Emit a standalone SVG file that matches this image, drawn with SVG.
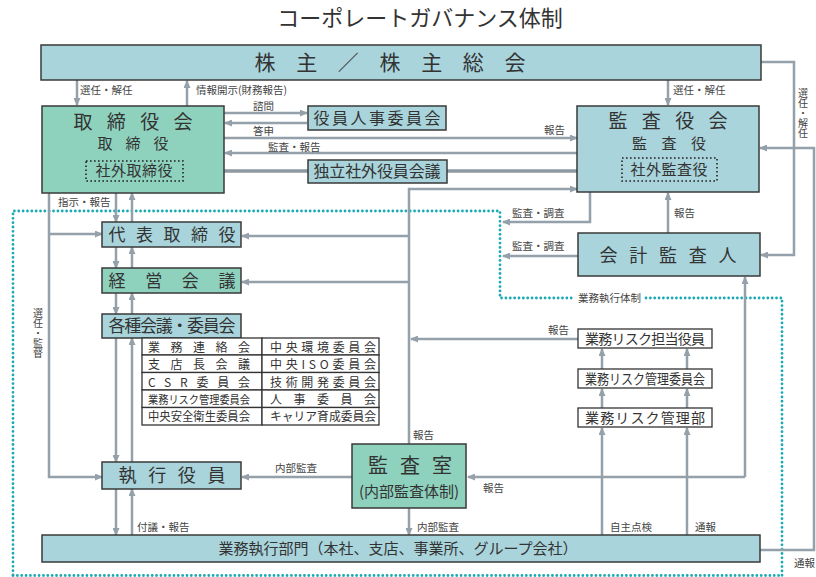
<svg xmlns="http://www.w3.org/2000/svg" width="816" height="577" viewBox="0 0 816 577">
<defs>
<marker id="ah" markerWidth="8" markerHeight="7" refX="7" refY="3.5" orient="auto" markerUnits="userSpaceOnUse">
<path d="M0,0 L8,3.5 L0,7 z" fill="#94a0aa"/>
</marker>
<style>
.t{font-family:"Noto Sans CJK JP","Noto Sans",sans-serif;fill:#333;}
.lb{font-family:"Noto Sans CJK JP","Noto Sans",sans-serif;fill:#444;font-size:10.5px;}
.vl{font-family:"Noto Sans CJK JP","Noto Sans",sans-serif;fill:#444;font-size:10px;writing-mode:vertical-rl;}
.blue{fill:#a9d4db;stroke:#3a3a3a;stroke-width:1.5;}
.green{fill:#8ed1bd;stroke:#3a3a3a;stroke-width:1.5;}
.wbox{fill:#fff;stroke:#333;stroke-width:1.3;}
.dot{fill:none;stroke:#222;stroke-width:1.6;stroke-dasharray:1.6 2.4;}
.ca{fill:none;stroke:#94a0aa;stroke-width:2.5;marker-end:url(#ah);}
.teal{fill:none;stroke:#19aab4;stroke-width:2.8;stroke-dasharray:0 4.35;stroke-linecap:round;}
</style>
</defs>
<rect width="816" height="577" fill="#fff"/>
<text class="t" x="420" y="26" font-size="22" text-anchor="middle">コーポレートガバナンス体制</text>

<g id="boundary">
<path class="teal" d="M13,575 V211 H500 V298 H574"/>
<path class="teal" d="M646,298 H782 V577"/>
<path class="teal" d="M13,575.5 H782"/>
<text class="lb" x="578" y="302">業務執行体制</text>
</g>

<g id="connectors">
<path class="ca" d="M77,80 V105"/>
<path class="ca" d="M187,106 V81"/>
<path class="ca" d="M668,80 V105"/>
<path class="ca" d="M761,62 H794 V255 H761"/>
<path class="ca" d="M760,550 H814 V148 H760"/>
<path class="ca" d="M224,113 H307"/>
<path class="ca" d="M307,123 H225"/>
<path class="ca" d="M224,138 H577"/>
<path class="ca" d="M577,153 H225"/>
<path d="M183,171 H224" stroke="#52625e" stroke-width="3.5" fill="none"/>
<path d="M224,171 H308" stroke="#8e99a2" stroke-width="3.5" fill="none"/>
<path d="M447,171 H622" stroke="#8e99a2" stroke-width="3.5" fill="none"/>
<path class="ca" d="M409,445 V189 H577"/>
<path class="ca" d="M409,236 H242"/>
<path class="ca" d="M409,282 H242"/>
<path class="ca" d="M578,339 H411"/>
<path class="ca" d="M590,192 V222 H503"/>
<path class="ca" d="M578,256 H503"/>
<path class="ca" d="M668,233 V193"/>
<path class="ca" d="M745,477 V277"/>
<path class="ca" d="M745,477 H468"/>
<path class="ca" d="M602,535 V428"/>
<path class="ca" d="M602,408 V389"/>
<path class="ca" d="M602,369 V349"/>
<path class="ca" d="M687,535 V428"/>
<path class="ca" d="M687,408 V389"/>
<path class="ca" d="M687,369 V349"/>
<path class="ca" d="M352,477 H242"/>
<path class="ca" d="M409,508 V535"/>
<path class="ca" d="M49,193 V477 H102"/>
<path class="ca" d="M49,234 H102"/>
<path class="ca" d="M116,193 V222"/>
<path class="ca" d="M132,222 V193"/>
<path class="ca" d="M116,247 V268"/>
<path class="ca" d="M132,268 V247"/>
<path class="ca" d="M116,293 V314"/>
<path class="ca" d="M132,314 V293"/>
<path class="ca" d="M116,338 V462"/>
<path class="ca" d="M132,462 V338"/>
<path class="ca" d="M116,489 V535"/>
<path class="ca" d="M132,535 V489"/>
</g>

<g id="labels">
<text class="lb" x="80" y="94">選任・解任</text>
<text class="lb" x="196" y="94">情報開示(財務報告)</text>
<text class="lb" x="673" y="94">選任・解任</text>
<text class="lb" x="253" y="110">諮問</text>
<text class="lb" x="253" y="135">答申</text>
<text class="lb" x="268" y="151">監査・報告</text>
<text class="lb" x="544" y="134">報告</text>
<text class="lb" x="58" y="206">指示・報告</text>
<text class="lb" x="512" y="217">監査・調査</text>
<text class="lb" x="512" y="250">監査・調査</text>
<text class="lb" x="674" y="217">報告</text>
<text class="lb" x="548" y="334">報告</text>
<text class="lb" x="413" y="439">報告</text>
<text class="lb" x="275" y="472">内部監査</text>
<text class="lb" x="483" y="492">報告</text>
<text class="lb" x="137" y="531">付議・報告</text>
<text class="lb" x="417" y="531">内部監査</text>
<text class="lb" x="610" y="531">自主点検</text>
<text class="lb" x="695" y="531">通報</text>
<text class="lb" x="794" y="567">通報</text>
<text class="vl" x="803" y="88">選任・解任</text>
<text class="vl" x="38" y="308">選任・監督</text>
</g>

<g id="shareholders">
<rect class="blue" x="41" y="45" width="720" height="35"/>
<text class="t" x="390" y="70" font-size="21" text-anchor="middle" textLength="271" lengthAdjust="spacing">株主／株主総会</text>
</g>

<g id="board">
<rect class="green" x="42" y="106" width="182" height="87"/>
<text class="t" x="133" y="129" font-size="19" text-anchor="middle" textLength="119" lengthAdjust="spacing">取締役会</text>
<text class="t" x="133" y="149" font-size="15" text-anchor="middle" textLength="71" lengthAdjust="spacing">取締役</text>
<rect class="dot" x="86" y="161" width="97" height="20"/>
<text class="t" x="134" y="176" font-size="15" text-anchor="middle" textLength="77" lengthAdjust="spacing">社外取締役</text>
</g>

<g id="nomination">
<rect class="blue" x="308" y="106" width="138" height="24"/>
<text class="t" x="377" y="124" font-size="16" text-anchor="middle" textLength="127" lengthAdjust="spacing">役員人事委員会</text>
</g>

<g id="independent">
<rect class="blue" x="308" y="160" width="139" height="23"/>
<text class="t" x="377" y="177" font-size="16" text-anchor="middle" textLength="127" lengthAdjust="spacing">独立社外役員会議</text>
</g>

<g id="auditboard">
<rect class="blue" x="577" y="106" width="182" height="86"/>
<text class="t" x="668" y="128" font-size="19" text-anchor="middle" textLength="119" lengthAdjust="spacing">監査役会</text>
<text class="t" x="669" y="149" font-size="15" text-anchor="middle" textLength="74" lengthAdjust="spacing">監査役</text>
<rect class="dot" x="622" y="158" width="95" height="23"/>
<text class="t" x="669" y="175" font-size="15" text-anchor="middle" textLength="77" lengthAdjust="spacing">社外監査役</text>
</g>

<g id="accountant">
<rect class="blue" x="578" y="233" width="182" height="43"/>
<text class="t" x="668" y="262" font-size="18" text-anchor="middle" textLength="137" lengthAdjust="spacing">会計監査人</text>
</g>

<g id="president">
<rect class="blue" x="102" y="222" width="139" height="25"/>
<text class="t" x="172" y="241" font-size="17" text-anchor="middle" textLength="127" lengthAdjust="spacing">代表取締役</text>
</g>

<g id="management">
<rect class="green" x="102" y="268" width="139" height="25"/>
<text class="t" x="172" y="287" font-size="17" text-anchor="middle" textLength="127" lengthAdjust="spacing">経営会議</text>
</g>

<g id="committees">
<rect class="blue" x="102" y="314" width="139" height="24"/>
<text class="t" x="172" y="332" font-size="17" text-anchor="middle" textLength="127" lengthAdjust="spacing">各種会議・委員会</text>
</g>

<g id="committee-table">
<rect class="wbox" x="142" y="338" width="120" height="17"/>
<rect class="wbox" x="262" y="338" width="117" height="17"/>
<rect class="wbox" x="142" y="355" width="120" height="17.5"/>
<rect class="wbox" x="262" y="355" width="117" height="17.5"/>
<rect class="wbox" x="142" y="372.5" width="120" height="17.5"/>
<rect class="wbox" x="262" y="372.5" width="117" height="17.5"/>
<rect class="wbox" x="142" y="390" width="120" height="17.5"/>
<rect class="wbox" x="262" y="390" width="117" height="17.5"/>
<rect class="wbox" x="142" y="407.5" width="120" height="17.5"/>
<rect class="wbox" x="262" y="407.5" width="117" height="17.5"/>
<text class="t" x="199" y="351.5" font-size="12" text-anchor="middle" textLength="102" lengthAdjust="spacing">業務連絡会</text>
<text class="t" x="199" y="369" font-size="12" text-anchor="middle" textLength="102" lengthAdjust="spacing">支店長会議</text>
<text class="t" x="199" y="386.5" font-size="12" text-anchor="middle" textLength="102" lengthAdjust="spacing">CSR委員会</text>
<text class="t" x="199" y="403.5" font-size="11" text-anchor="middle" textLength="102" lengthAdjust="spacingAndGlyphs">業務リスク管理委員会</text>
<text class="t" x="199" y="421" font-size="12" text-anchor="middle" textLength="102" lengthAdjust="spacingAndGlyphs">中央安全衛生委員会</text>
<text class="t" x="323" y="351.5" font-size="12" text-anchor="middle" textLength="106" lengthAdjust="spacing">中央環境委員会</text>
<text class="t" x="323" y="369" font-size="12" text-anchor="middle" textLength="106" lengthAdjust="spacing">中央ISO委員会</text>
<text class="t" x="323" y="386.5" font-size="12" text-anchor="middle" textLength="106" lengthAdjust="spacing">技術開発委員会</text>
<text class="t" x="323" y="403.5" font-size="12" text-anchor="middle" textLength="106" lengthAdjust="spacing">人事委員会</text>
<text class="t" x="323" y="421" font-size="12" text-anchor="middle" textLength="106" lengthAdjust="spacingAndGlyphs">キャリア育成委員会</text>
</g>

<g id="executives">
<rect class="blue" x="102" y="462" width="139" height="27"/>
<text class="t" x="172" y="482" font-size="18" text-anchor="middle" textLength="107" lengthAdjust="spacing">執行役員</text>
</g>

<g id="auditoffice">
<rect class="green" x="352" y="444" width="114" height="64"/>
<text class="t" x="410" y="473" font-size="20" text-anchor="middle" textLength="84" lengthAdjust="spacing">監査室</text>
<text class="t" x="409" y="497" font-size="15" text-anchor="middle">(内部監査体制)</text>
</g>

<g id="risk-officer">
<rect class="wbox" x="578" y="329" width="134" height="19"/>
<text class="t" x="645" y="344" font-size="14" text-anchor="middle" textLength="120" lengthAdjust="spacing">業務リスク担当役員</text>
</g>
<g id="risk-committee">
<rect class="wbox" x="578" y="369" width="134" height="19"/>
<text class="t" x="645" y="384" font-size="14" text-anchor="middle" textLength="120" lengthAdjust="spacingAndGlyphs">業務リスク管理委員会</text>
</g>
<g id="risk-dept">
<rect class="wbox" x="578" y="408" width="134" height="19"/>
<text class="t" x="645" y="423" font-size="14" text-anchor="middle" textLength="120" lengthAdjust="spacing">業務リスク管理部</text>
</g>

<g id="operations">
<rect class="blue" x="42" y="535" width="718" height="27"/>
<text class="t" x="398" y="554" font-size="15" text-anchor="middle">業務執行部門（本社、支店、事業所、グループ会社）</text>
</g>
</svg>
